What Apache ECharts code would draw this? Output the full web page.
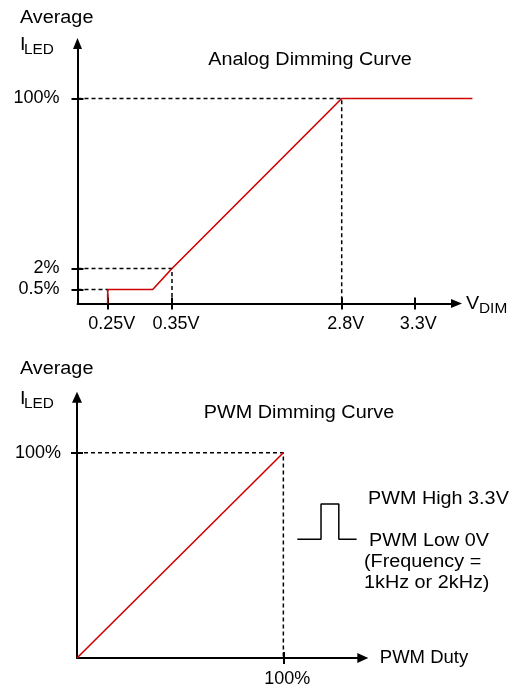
<!DOCTYPE html>
<html><head><meta charset="utf-8">
<script src="https://cdn.jsdelivr.net/npm/echarts@6/dist/echarts.min.js"></script>
<style>html,body{margin:0;padding:0;background:#fff}#c{width:513px;height:688px}</style>
</head><body><div id="c"></div>
<script>
// ---------------- data ----------------
// Analog dimming curve (top panel)
const analogTitle = 'Analog Dimming Curve';
const vdimTicks = [0.25, 0.35, 2.8, 3.3];
const vdimTickLabels = ['0.25V', '0.35V', '2.8V', '3.3V'];
const analogIledTicks = [0.5, 2, 100];
const analogIledTickLabels = ['0.5%', '2%', '100%'];
const analogCurveV = [0.25, 0.25, 0.32, 0.35, 2.8, 3.7];
const analogCurveI = [0, 0.5, 0.5, 2, 100, 100];
const analogGuideV = [0.25, 0.35, 2.8];
const analogGuideI = [0.5, 2, 100];

// PWM dimming curve (bottom panel)
const pwmTitle = 'PWM Dimming Curve';
const pwmDutyTicks = [100];
const pwmDutyTickLabels = ['100%'];
const pwmIledTicks = [100];
const pwmIledTickLabels = ['100%'];
const pwmCurveDuty = [0, 100];
const pwmCurveI = [0, 100];
const pwmGuideDuty = [100];
const pwmGuideI = [100];
const pwmWaveT = [0, 1, 1, 1.75, 1.75, 2.5];
const pwmWaveV = [0, 0, 3.3, 3.3, 0, 0];
const pwmNotes = ['PWM High 3.3V', 'PWM Low 0V', '(Frequency =', '1kHz or 2kHz)'];
const yNameMain = 'Average';
const yNameI = 'I';
const yNameSub = 'LED';
const xNameTopMain = 'V';
const xNameTopSub = 'DIM';
const xNameBottom = 'PWM Duty';

// ---------------- layout (schematic, non-linear axes of the top panel) ----------------
const FONT = "'Liberation Sans', Arial, sans-serif";
const SX = 1.1; // horizontal stretch of the free texts
const topXStops = { v: [0, 0.25, 0.35, 2.8, 3.3], u: [0, 7.97, 24.93, 69.71, 88.87] };
const topYStops = { v: [0, 0.5, 2, 100], u: [0, 5.38, 13.46, 78.85] };
function piecewise(stops) {
  return function (val) {
    const v = stops.v, u = stops.u, n = v.length;
    let i = 0;
    while (i < n - 2 && val > v[i + 1]) i++;
    return u[i] + (val - v[i]) * (u[i + 1] - u[i]) / (v[i + 1] - v[i]);
  };
}
const sxTop = piecewise(topXStops);
const syTop = piecewise(topYStops);
const ident = function (v) { return v; };

function labelFmt(us, labels) {
  return function (val) {
    for (let i = 0; i < us.length; i++) if (Math.abs(us[i] - val) < 1e-6) return labels[i];
    return '';
  };
}

const AX = '#000';
function axisPair(dim, g, max, ticksU, labels, margin, arrowSize) {
  const pos = dim === 'x' ? 'bottom' : 'left';
  const main = {
    gridIndex: g, type: 'value', min: 0, max: max, position: pos,
    axisLine: { show: true, onZero: false, symbol: ['none', 'triangle'], symbolSize: arrowSize,
      lineStyle: { color: AX, width: 2 } },
    axisTick: { show: true, inside: false, length: 6, customValues: ticksU, lineStyle: { color: AX, width: 2 } },
    axisLabel: { show: true, customValues: ticksU, formatter: labelFmt(ticksU, labels), margin: margin,
      color: '#000', fontSize: 18, fontFamily: FONT, padding: dim === 'x' ? [0, 0, 0, 8] : 0 },
    splitLine: { show: false }
  };
  const inner = {
    gridIndex: g, type: 'value', min: 0, max: max, position: pos,
    axisLine: { show: false, onZero: false },
    axisTick: { show: true, inside: true, length: 6, customValues: ticksU, lineStyle: { color: AX, width: 2 } },
    axisLabel: { show: false },
    splitLine: { show: false }
  };
  return [main, inner];
}

const topXTicksU = vdimTicks.map(sxTop);
const topYTicksU = analogIledTicks.map(syTop);

// axes: 0,1 top visible | 2,3 bottom visible | 4 waveform | 5 top series host (wider, hidden)
const xAxes = [].concat(
  axisPair('x', 0, 100, topXTicksU, vdimTickLabels, 12, [9, 11]),
  axisPair('x', 1, 138.5, pwmDutyTicks, pwmDutyTickLabels, 12, [10, 11]),
  [{ gridIndex: 2, type: 'value', min: 0, max: 2.5, show: false }],
  [{ gridIndex: 3, type: 'value', min: 0, max: 110, show: false }]
);
xAxes[2].name = xNameBottom;
xAxes[2].nameLocation = 'end';
xAxes[2].nameGap = 17;
xAxes[2].nameTextStyle = { color: '#000', fontSize: 18.5, fontFamily: FONT, align: 'left', verticalAlign: 'middle' };

const yAxes = [].concat(
  axisPair('y', 0, 100, topYTicksU, analogIledTickLabels, 18, [9, 11]),
  axisPair('y', 1, 127.1, pwmIledTicks, pwmIledTickLabels, 16, [10, 11]),
  [{ gridIndex: 2, type: 'value', min: 0, max: 3.3, show: false }],
  [{ gridIndex: 3, type: 'value', min: 0, max: 100, show: false }]
);

const DASH = { color: '#000', width: 1.5, type: [4, 3] };
const RED = '#d00000';

function guideSeries(xAxisIndex, yAxisIndex, gv, gi, sx, sy) {
  return gv.map(function (v, i) {
    return {
      type: 'line', xAxisIndex: xAxisIndex, yAxisIndex: yAxisIndex, symbol: 'none', silent: true, z: 2,
      lineStyle: DASH, animation: false,
      data: [[0, sy(gi[i])], [sx(v), sy(gi[i])], [sx(v), 0]]
    };
  });
}

const series = [].concat(
  guideSeries(5, 5, analogGuideV, analogGuideI, sxTop, syTop),
  [{
    type: 'line', xAxisIndex: 5, yAxisIndex: 5, symbol: 'none', clip: false, z: 4, animation: false,
    lineStyle: { color: RED, width: 1.6 },
    data: analogCurveV.map(function (v, i) { return [sxTop(v), syTop(analogCurveI[i])]; })
  }],
  guideSeries(2, 2, pwmGuideDuty, pwmGuideI, ident, ident),
  [{
    type: 'line', xAxisIndex: 2, yAxisIndex: 2, symbol: 'none', clip: false, z: 4, animation: false,
    lineStyle: { color: RED, width: 1.6 },
    data: pwmCurveDuty.map(function (v, i) { return [v, pwmCurveI[i]]; })
  }],
  [{
    type: 'line', xAxisIndex: 4, yAxisIndex: 4, symbol: 'none', clip: false, z: 4, animation: false,
    lineStyle: { color: '#000', width: 1.5 },
    data: pwmWaveT.map(function (t, i) { return [t, pwmWaveV[i]]; })
  }]
);

function txt(text, x, y, size, align) {
  return { type: 'text', x: x, y: y, scaleX: SX, silent: true,
    style: { text: text, font: size + 'px ' + FONT, fill: '#000', align: align || 'left', verticalAlign: 'middle' } };
}

const graphic = [
  txt(yNameMain, 20, 18, 18),
  txt(yNameI, 20, 45, 18),
  txt(yNameSub, 24, 50, 14),
  txt(analogTitle, 310, 60, 18, 'center'),
  txt(xNameTopMain, 466, 304, 18),
  txt(xNameTopSub, 479, 309, 14),
  txt(yNameMain, 20, 369.5, 18),
  txt(yNameI, 20, 399, 18),
  txt(yNameSub, 24, 404, 14),
  txt(pwmTitle, 299, 413, 18, 'center'),
  txt(pwmNotes[0], 368, 499, 18),
  txt(pwmNotes[1], 369, 541, 18),
  txt(pwmNotes[2], 364, 562, 18),
  txt(pwmNotes[3], 364, 583, 18)
];

const chart = echarts.init(document.getElementById('c'), null, { renderer: 'canvas' });
chart.setOption({
  backgroundColor: '#fff',
  animation: false,
  grid: [
    { left: 77.5, top: 43.5, width: 379, height: 260 },
    { left: 77, top: 397.2, width: 285.8, height: 262.8 },
    { left: 297.3, top: 504, width: 59.3, height: 35.3 },
    { left: 77.5, top: 43.5, width: 416.9, height: 260 }
  ],
  xAxis: xAxes,
  yAxis: yAxes,
  series: series,
  graphic: graphic
});
</script></body></html>
